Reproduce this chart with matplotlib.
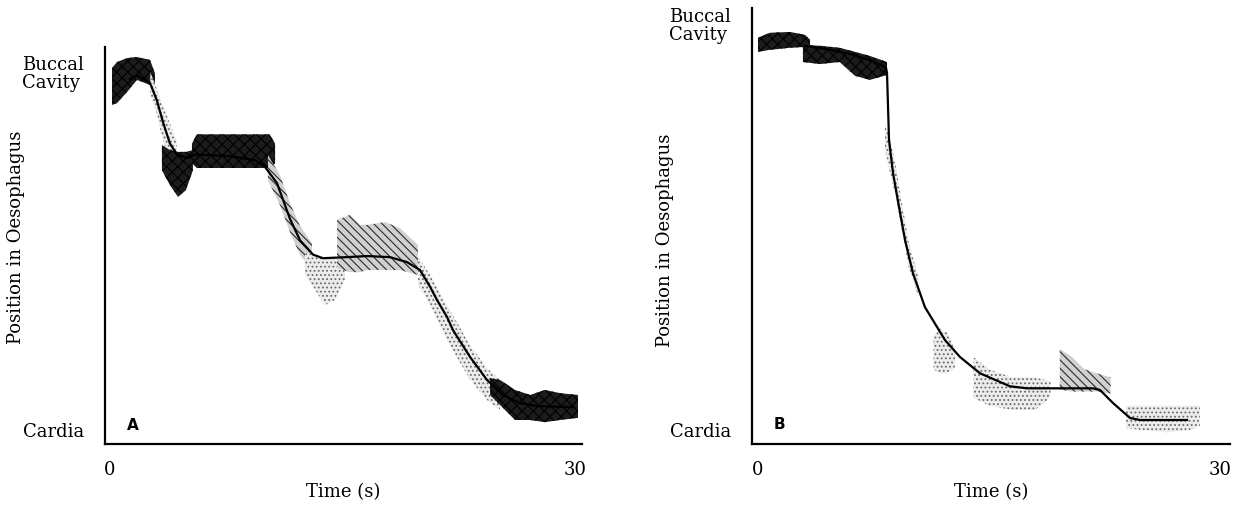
import matplotlib
matplotlib.use("Agg")
import matplotlib.pyplot as plt

# position in oesophagus: 0 = cardia, 1 = buccal cavity ; time in seconds
# ---- panel A : fitted curve
a_t = [1.29, 1.74, 2.58, 3.03, 3.42, 3.87, 4.32, 4.97, 5.48, 7.74, 9.35, 10.0,
       10.77, 11.61, 12.26, 13.10, 13.74, 15.29, 16.58, 18.06, 19.16, 20.0,
       20.65, 21.10, 21.74, 22.13, 23.23, 24.32, 25.35, 26.45, 27.55, 29.87]
a_pos = [0.98, 0.99, 0.97, 0.92, 0.86, 0.80, 0.77, 0.76, 0.77, 0.765, 0.754, 0.735,
         0.69, 0.59, 0.53, 0.49, 0.48, 0.483, 0.486, 0.483, 0.469, 0.447,
         0.40, 0.363, 0.316, 0.279, 0.204, 0.14, 0.098, 0.075, 0.067, 0.064]

# panel A : scatter clouds (envelopes)
a_start_t = [0.13, 0.45, 1.10, 1.74, 2.58, 2.90]
a_start_lo = [0.908, 0.913, 0.944, 0.978, 0.964, 0.944]
a_start_hi = [1.011, 1.028, 1.039, 1.042, 1.034, 0.997]

a_fall1_t = [2.6, 3.0, 3.4, 3.9, 4.3]
a_fall1_lo = [0.936, 0.888, 0.81, 0.754, 0.74]
a_fall1_hi = [1.0, 0.955, 0.908, 0.852, 0.81]

a_dip_t = [3.35, 3.87, 4.39, 4.90, 5.35]
a_dip_lo = [0.726, 0.684, 0.651, 0.670, 0.726]
a_dip_hi = [0.796, 0.782, 0.777, 0.777, 0.782]

a_hold1_t = [5.29, 5.6, 10.3, 10.65]
a_hold1_lo = [0.745, 0.732, 0.732, 0.745]
a_hold1_hi = [0.80, 0.826, 0.826, 0.80]

a_fall2_t = [10.19, 10.97, 11.61, 12.26, 13.03]
a_fall2_lo = [0.698, 0.628, 0.553, 0.489, 0.447]
a_fall2_hi = [0.768, 0.712, 0.634, 0.570, 0.522]

a_under_t = [12.58, 13.23, 13.87, 14.52, 15.16]
a_under_lo = [0.433, 0.391, 0.349, 0.363, 0.419]
a_under_hi = [0.497, 0.489, 0.480, 0.480, 0.480]

a_hold2_t = [14.65, 15.48, 16.13, 16.58, 17.74, 18.71, 19.87]
a_hold2_lo = [0.453, 0.441, 0.441, 0.447, 0.447, 0.447, 0.433]
a_hold2_hi = [0.587, 0.601, 0.573, 0.573, 0.581, 0.564, 0.517]

a_fall3_t = [19.87, 20.65, 21.74, 23.23, 24.32, 25.16]
a_fall3_lo = [0.405, 0.349, 0.251, 0.140, 0.084, 0.056]
a_fall3_hi = [0.486, 0.433, 0.349, 0.237, 0.173, 0.140]

a_end_t = [24.52, 25.16, 26.13, 27.10, 28.06, 29.03, 30.19]
a_end_lo = [0.098, 0.070, 0.028, 0.028, 0.022, 0.028, 0.034]
a_end_hi = [0.145, 0.140, 0.112, 0.098, 0.112, 0.103, 0.098]

# ---- panel B : fitted curve
b_t = [3.05, 4.68, 6.17, 7.60, 8.31, 8.38, 8.51, 8.77, 9.16, 9.55, 10.06,
       10.84, 12.14, 13.12, 14.42, 16.36, 17.47, 19.61, 21.75, 22.21, 23.05,
       24.16, 24.81, 27.86]
b_pos = [0.946, 0.936, 0.924, 0.906, 0.892, 0.879, 0.714, 0.633, 0.549, 0.468,
         0.387, 0.303, 0.222, 0.180, 0.140, 0.108, 0.103, 0.103, 0.103, 0.099,
         0.067, 0.030, 0.025, 0.025]

# panel B : scatter clouds
b_start_t = [0.0, 0.78, 2.08, 3.05, 3.38]
b_start_lo = [0.931, 0.936, 0.941, 0.943, 0.943]
b_start_hi = [0.966, 0.978, 0.980, 0.973, 0.961]

b_hold_t = [2.92, 4.03, 5.32, 6.30, 7.27, 8.38]
b_hold_lo = [0.906, 0.901, 0.906, 0.872, 0.862, 0.874]
b_hold_hi = [0.948, 0.946, 0.941, 0.931, 0.921, 0.906]

b_fall_t = [8.25, 8.6, 9.0, 9.3, 9.8, 10.4]
b_fall_lo = [0.690, 0.628, 0.567, 0.50, 0.40, 0.33]
b_fall_hi = [0.751, 0.714, 0.640, 0.57, 0.46, 0.38]

b_blob_t = [11.4, 11.8, 12.3, 12.8]
b_blob_lo = [0.150, 0.140, 0.140, 0.155]
b_blob_hi = [0.230, 0.250, 0.240, 0.200]

b_tail_t = [14.0, 15.0, 16.5, 18.0, 19.0]
b_tail_lo = [0.080, 0.060, 0.050, 0.050, 0.080]
b_tail_hi = [0.180, 0.150, 0.130, 0.130, 0.120]

b_bump_t = [19.6, 20.4, 21.2, 22.0, 22.9]
b_bump_lo = [0.100, 0.095, 0.095, 0.095, 0.090]
b_bump_hi = [0.200, 0.180, 0.150, 0.140, 0.130]

b_end_t = [23.9, 25.0, 26.5, 28.0, 28.7]
b_end_lo = [0.005, 0.000, -0.005, 0.000, 0.010]
b_end_hi = [0.060, 0.060, 0.060, 0.060, 0.060]

pos_ticks = [0, 1]
pos_labels = ["Cardia", "Buccal\nCavity"]
time_ticks = [0, 30]

SERIF = "DejaVu Serif"
plt.rcParams["hatch.linewidth"] = 0.8

fig = plt.figure(figsize=(12.37, 5.08), dpi=100)
ax_a = fig.add_axes([0.0849, 0.126, 0.3856, 0.7815])
ax_b = fig.add_axes([0.6079, 0.126, 0.3864, 0.8583])

# stippled look of the scanned point clouds
dark = dict(facecolor="#1c1c1c", edgecolor="#000000", hatch="xxx", linewidth=0)
mid = dict(facecolor="#d0d0d0", edgecolor="#2a2a2a", hatch="\\\\\\\\", linewidth=0)
light = dict(facecolor="#ececec", edgecolor="#6a6a6a", hatch="....", linewidth=0)

ax = ax_a
ax.fill_between(a_start_t, a_start_lo, a_start_hi, **dark)
ax.fill_between(a_fall1_t, a_fall1_lo, a_fall1_hi, **light)
ax.fill_between(a_dip_t, a_dip_lo, a_dip_hi, **dark)
ax.fill_between(a_hold1_t, a_hold1_lo, a_hold1_hi, **dark)
ax.fill_between(a_fall2_t, a_fall2_lo, a_fall2_hi, **mid)
ax.fill_between(a_under_t, a_under_lo, a_under_hi, **light)
ax.fill_between(a_hold2_t, a_hold2_lo, a_hold2_hi, **mid)
ax.fill_between(a_fall3_t, a_fall3_lo, a_fall3_hi, **light)
ax.fill_between(a_end_t, a_end_lo, a_end_hi, **dark)
ax.plot(a_t, a_pos, color="black", linewidth=1.6)
ax.set_xlim(-0.32, 30.45)
ax.set_ylim(-0.039, 1.07)

ax = ax_b
ax.fill_between(b_start_t, b_start_lo, b_start_hi, **dark)
ax.fill_between(b_hold_t, b_hold_lo, b_hold_hi, **dark)
ax.fill_between(b_fall_t, b_fall_lo, b_fall_hi, **light)
ax.fill_between(b_blob_t, b_blob_lo, b_blob_hi, **light)
ax.fill_between(b_tail_t, b_tail_lo, b_tail_hi, **light)
ax.fill_between(b_bump_t, b_bump_lo, b_bump_hi, **mid)
ax.fill_between(b_end_t, b_end_lo, b_end_hi, **light)
ax.plot(b_t, b_pos, color="black", linewidth=1.6)
ax.set_xlim(-0.39, 30.65)
ax.set_ylim(-0.034, 1.039)

label_xy = {"A": (-0.168, 0.52), "B": (-0.163, 0.468)}
for ax, tag in [(ax_a, "A"), (ax_b, "B")]:
    ax.spines["top"].set_visible(False)
    ax.spines["right"].set_visible(False)
    ax.spines["left"].set_linewidth(1.6)
    ax.spines["bottom"].set_linewidth(1.6)
    ax.set_yticks(pos_ticks)
    ax.set_yticklabels(pos_labels, family=SERIF, fontsize=13, linespacing=1.0,
                       multialignment="left")
    ax.set_xticks(time_ticks)
    ax.set_xticklabels([str(t) for t in time_ticks], family=SERIF, fontsize=13)
    ax.tick_params(length=0)
    ax.tick_params(axis="y", pad=15)
    ax.tick_params(axis="x", pad=12)
    ax.set_xlabel("Time (s)", family=SERIF, fontsize=13, labelpad=3)
    ax.set_ylabel("Position in Oesophagus", family=SERIF, fontsize=13)
    ax.yaxis.set_label_coords(*label_xy[tag])
    ax.text(0.045, 0.035, tag, transform=ax.transAxes, fontsize=11,
            fontweight="bold", family="DejaVu Sans")

fig.savefig("out.png", dpi=100)
